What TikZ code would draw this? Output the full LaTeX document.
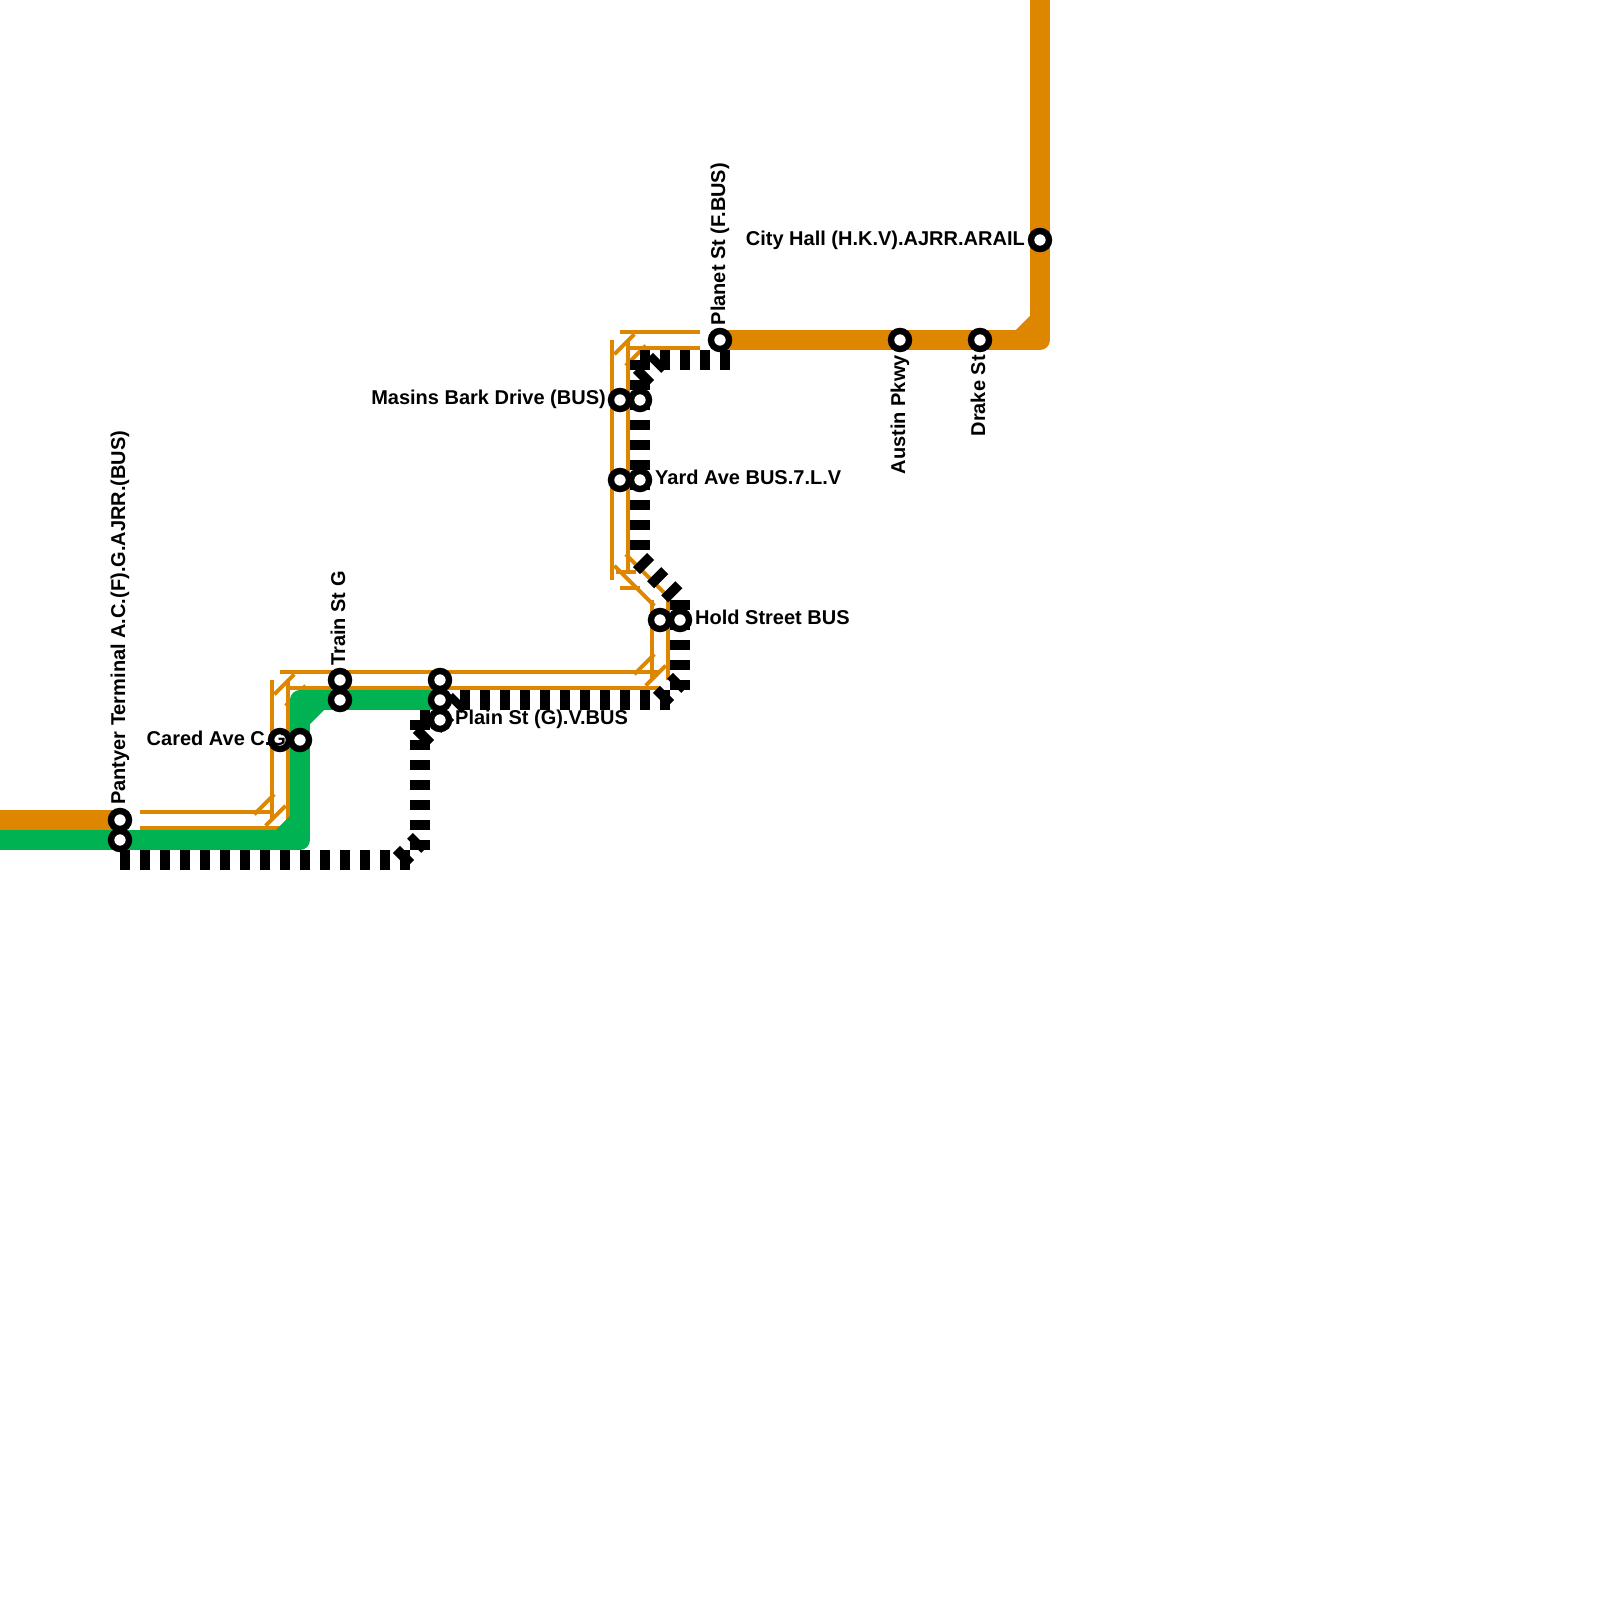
\documentclass[tikz,border=0pt]{standalone}
\usepackage{fontspec}
\setmainfont{Liberation Sans}
\definecolor{lineorange}{HTML}{DF8600}
\definecolor{linegreen}{HTML}{00B251}
\tikzset{
  thickline/.style={line width=20pt, line join=round},
  thinline/.style={lineorange, line width=4pt},
  busline/.style={black, line width=20pt, dash pattern=on 10pt off 10pt},
  station/.style={circle, draw=black, fill=white, line width=6.4pt, minimum size=18pt, inner sep=0pt},
  stoplabel/.style={text=black, font=\fontsize{20}{24}\selectfont\bfseries, inner sep=0pt},
}

\begin{document}
\begin{tikzpicture}[x=1pt, y=-1pt]

% Background
\path[use as bounding box, fill=white] (0,0) rectangle (1600,1600);

% Stops
\coordinate (pantyerO) at (120,820);
\coordinate (pantyerG) at (120,840);
\coordinate (caredL) at (280,740);
\coordinate (caredR) at (300,740);
\coordinate (trainT) at (340,680);
\coordinate (trainB) at (340,700);
\coordinate (plainT) at (440,680);
\coordinate (plainM) at (440,700);
\coordinate (plainB) at (440,720);
\coordinate (holdL) at (660,620);
\coordinate (holdR) at (680,620);
\coordinate (yardL) at (620,480);
\coordinate (yardR) at (640,480);
\coordinate (masinsL) at (620,400);
\coordinate (masinsR) at (640,400);
\coordinate (planet) at (720,340);
\coordinate (austin) at (900,340);
\coordinate (drake) at (980,340);
\coordinate (cityhall) at (1040,240);

% Orange line, thick parts
\draw[thickline, lineorange] (0,820) -- (pantyerO);
\draw[thickline, lineorange] (planet) -- (1040,340) -- (1040,0);
\draw[thickline, lineorange, line join=miter] (1020,340) -- (1040,320);

% Orange line, thin pairs
\foreach \xa/\ya/\xb/\yb in {
  140/812/273/812, 140/828/280/828,
  254.3/814.3/274.3/794.3, 265.7/825.7/285.7/805.7,
  272/820/272/680, 288/820/288/680,
  274.3/694.3/294.3/674.3, 285.7/705.7/305.7/685.7,
  280/672/660/672, 288/688/660/688,
  634.3/674.3/654.3/654.3, 645.7/685.7/665.7/665.7,
  652/680/652/600, 668/680/668/600,
  625.7/554.3/665.7/594.3, 614.3/565.7/654.3/605.7,
  616/572/636/572, 620/588/640/588,
  612/340/612/580, 628/340/628/573,
  614.3/354.3/634.3/334.3, 625.7/365.7/645.7/345.7,
  620/332/700/332, 628/348/700/348} {
  \draw[thinline] (\xa,\ya) -- (\xb,\yb);
}

% Green line
\draw[thickline, linegreen] (0,840) -- (300,840) -- (300,700) -- (plainM);
\draw[thickline, linegreen] (280,840) -- (300,820);
\draw[thickline, linegreen] (300,720) -- (320,700);

% Bus line
\draw[busline] (120,860) -- (420,860);
\draw[busline] (400,860) -- (420,840);
\draw[busline] (420,720) -- (420,850);
\draw[busline] (420,740) -- (plainB);
\draw[busline] (420,720) -- (plainB);
\draw[busline] (plainB) -- (460,700);
\draw[busline] (460,700) -- (680,700);
\draw[busline] (660,700) -- (680,680);
\draw[busline] (680,600) -- (680,690);
\draw[busline] (640,560) -- (680,600);
\draw[busline] (640,360) -- (640,560);
\draw[busline] (640,380) -- (660,360);
\draw[busline] (640,360) -- (730,360);

% Stop rings
\foreach \stop in {pantyerO,pantyerG,caredL,caredR,trainT,trainB,plainT,plainM,plainB,
  holdL,holdR,yardL,yardR,masinsL,masinsR,planet,austin,drake,cityhall} {
  \node[station] (\stop ring) at (\stop) {};
}

% Labels
\node[stoplabel, rotate=90, anchor=base west] (pantyerlabel) at (125,805) {Pantyer Terminal A.C.(F).G.AJRR.(BUS)};
\node[stoplabel, rotate=90, anchor=base west] (trainlabel) at (345,666) {Train St G};
\node[stoplabel, rotate=90, anchor=base west] (planetlabel) at (725,325.5) {Planet St (F.BUS)};
\node[stoplabel, rotate=90, anchor=base east] (austinlabel) at (905,355) {Austin Pkwy};
\node[stoplabel, rotate=90, anchor=base east] (drakelabel) at (985,355) {Drake St};
\node[stoplabel, anchor=base east] (cityhalllabel) at (1025,245) {City Hall (H.K.V).AJRR.ARAIL};
\node[stoplabel, anchor=base east] (masinslabel) at (606,404) {Masins Bark Drive (BUS)};
\node[stoplabel, anchor=base west] (yardlabel) at (655,484) {Yard Ave BUS.7.L.V};
\node[stoplabel, anchor=base west] (holdlabel) at (695,624) {Hold Street BUS};
\node[stoplabel, anchor=base west] (plainlabel) at (455,724) {Plain St (G).V.BUS};
\node[stoplabel, anchor=base west] (caredlabel) at (146.5,745) {Cared Ave C.G};

\end{tikzpicture}
\end{document}
